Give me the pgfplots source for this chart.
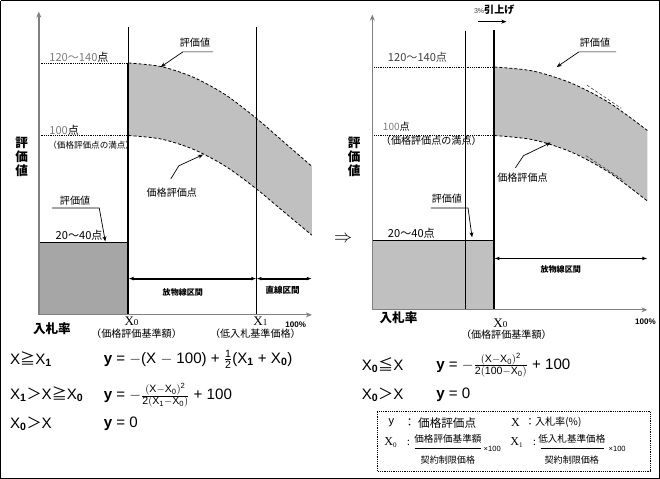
\documentclass[border=0pt]{standalone}
\usepackage{fix-cm}
\usepackage{fontspec}
\setmainfont{Liberation Sans}
\setsansfont{Liberation Sans}
\newfontfamily\jp{Noto Sans CJK JP}
\newfontfamily\mincho{Liberation Serif}
\usepackage{pgfplots}
\pgfplotsset{compat=1.18}
\usepgfplotslibrary{fillbetween}
\usetikzlibrary{arrows.meta}

\definecolor{BandGray}{HTML}{C0C0C0}
\definecolor{DarkBox}{HTML}{A6A6A6}
\definecolor{AxisGray}{HTML}{808080}
\definecolor{LabelGray}{HTML}{7A7A7A}

\newcommand{\fs}[1]{\fontsize{#1}{#1}\selectfont}
\newcommand{\ms}[1]{\mathsf{#1}}

\begin{document}
\begin{tikzpicture}[
    jp/.style={font=\jp\fs{10}},
    lead/.style={black, line width=0.7pt, -{Stealth[length=5pt, width=4pt]}},
    span/.style={black, line width=1.8pt, {Latex[length=5pt]}-{Latex[length=5pt]}},
    curve/.style={black, densely dashed, line width=0.8pt, smooth},
]
\begin{axis}[
    scale only axis,
    width=660pt, height=478pt,
    xmin=0, xmax=660, ymin=0, ymax=478,
    y dir=reverse,
    hide axis,
    clip=false,
]

% ---------------- frame ----------------
\addplot[black, line width=1pt] coordinates {(1,1) (655,1) (655,475) (1,475) (1,1)};

% ================= left panel =================
\addplot[fill=DarkBox, draw=none] coordinates {(39,241) (128,241) (128,313) (39,313)};
\addplot[black, line width=0.8pt] coordinates {(39,241) (128,241)};

\addplot[curve, name path=upL] coordinates {
    (128,63) (160,66.5) (192,77) (224,94.4) (255,118) (283,142.2) (310,165.6)};
\addplot[curve, name path=loL] coordinates {
    (128,135) (160,138.4) (192,148.5) (224,165.3) (255,188) (283,211.4) (310,233.9)};
\addplot[BandGray] fill between[of=upL and loL];

\addplot[black, line width=0.8pt] coordinates {(128,27) (128,63)};
\addplot[black, line width=2pt] coordinates {(128,63) (128,313)};
\addplot[black, line width=0.8pt] coordinates {(255,27) (255,313)};

\addplot[black, densely dotted, line width=0.8pt] coordinates {(39,63) (128,63)};
\addplot[black, densely dotted, line width=0.8pt] coordinates {(39,135) (128,135)};

\addplot[AxisGray, line width=1.6pt, -{Stealth[length=6pt, width=5pt]}] coordinates {(39,313) (39,12)};
\addplot[AxisGray, line width=1pt, -{Stealth[length=6pt, width=5pt]}] coordinates {(39,313) (310,313)};

\addplot[span] coordinates {(128,277) (255,277)};
\addplot[span] coordinates {(255,277) (310,277)};

\addplot[lead] coordinates {(212,52) (182,52) (160,67)};
\addplot[lead] coordinates {(170,178) (178,165) (202,154)};
\addplot[lead] coordinates {(52,207) (99,207) (105,240)};

\node[anchor=west, font=\jp\fs{11}] at (axis cs:46,57) {\textcolor{LabelGray}{120〜140}点};
\node[anchor=west, font=\jp\fs{11}] at (axis cs:46,130) {\textcolor{LabelGray}{100}点};
\node[anchor=west, font=\jp\fs{8.5}] at (axis cs:45,145) {（価格評価点の満点）};
\node[jp] at (axis cs:194,43) {評価値};
\node[jp] at (axis cs:171,192) {価格評価点};
\node[jp] at (axis cs:75,200) {評価値};
\node[font=\jp\fs{11}] at (axis cs:79,234) {20〜40点};
\node[font=\jp\bfseries\fs{8}] at (axis cs:182,291) {放物線区間};
\node[font=\jp\bfseries\fs{8.5}] at (axis cs:281,289) {直線区間};

\node[font=\jp\bfseries\fs{12.5}] at (axis cs:22,142) {評};
\node[font=\jp\bfseries\fs{12.5}] at (axis cs:22,156) {価};
\node[font=\jp\bfseries\fs{12.5}] at (axis cs:22,170) {値};

\node[font=\jp\bfseries\fs{12.5}] at (axis cs:52,327) {入札率};
\node[font=\mincho\fs{13}] at (axis cs:131,319) {X{\fs{9}0}};
\node[font=\jp\fs{10}] at (axis cs:136,332) {（価格評価基準額）};
\node[font=\mincho\fs{13}] at (axis cs:259,319) {X{\fs{9}1}};
\node[font=\jp\fs{10}] at (axis cs:254,332) {（低入札基準価格）};
\node[font=\bfseries\fs{8}] at (axis cs:294,323) {100\%};

\node[anchor=west, font=\fs{15}] at (axis cs:7,357) {X{\jp ≧}X\textsubscript{\textbf{1}}};
\node[anchor=west, font=\fs{15}] at (axis cs:100,357)
    {\textbf{y} = $-$(X $-$ 100) + $\frac{\ms{1}}{\ms{2}}$(X\textsubscript{\textbf{1}} + X\textsubscript{\textbf{0}})};
\node[anchor=west, font=\fs{15}] at (axis cs:7,392) {X\textsubscript{\textbf{1}}{\jp ＞}X{\jp ≧}X\textsubscript{\textbf{0}}};
\node[anchor=west, font=\fs{15}] at (axis cs:100,393)
    {\textbf{y} = $-\frac{(\ms{X}-\ms{X}_{\ms{0}})^{\ms{2}}}{\ms{2}(\ms{X}_{\ms{1}}-\ms{X}_{\ms{0}})}$ + 100};
\node[anchor=west, font=\fs{15}] at (axis cs:7,421) {X\textsubscript{\textbf{0}}{\jp ＞}X};
\node[anchor=west, font=\fs{15}] at (axis cs:100,421) {\textbf{y} = 0};

% ================= right panel =================
\addplot[fill=BandGray, draw=none] coordinates {(370,239) (491,239) (491,308) (370,308)};
\addplot[black, line width=0.8pt] coordinates {(370,239) (491,239)};

\addplot[curve, name path=upR] coordinates {
    (491,67) (529,70.9) (567,82.8) (605,102.4) (643,130)};
\addplot[curve, name path=loR] coordinates {
    (491,135) (529,139.1) (567,151.2) (605,171.6) (643,200)};
\addplot[BandGray] fill between[of=upR and loR];

\addplot[darkgray, densely dashed, line width=0.6pt] coordinates {(583,85) (617,108)};
\addplot[darkgray, densely dashed, line width=0.6pt] coordinates {(582,155) (620,180)};

\addplot[black, line width=0.8pt] coordinates {(462,31) (462,308)};
\addplot[black, line width=2.2pt] coordinates {(491,30) (491,308)};

\addplot[black, densely dotted, line width=0.8pt] coordinates {(370,67) (491,67)};
\addplot[black, densely dotted, line width=0.8pt] coordinates {(370,135) (491,135)};

\addplot[AxisGray, line width=1.6pt, -{Stealth[length=6pt, width=5pt]}] coordinates {(370,308) (370,15)};
\addplot[AxisGray, line width=1pt, -{Stealth[length=6pt, width=5pt]}] coordinates {(370,308) (643,308)};

\addplot[span] coordinates {(491,257) (643,257)};
\addplot[black, line width=1.3pt, -{Stealth[length=5pt, width=4pt]}] coordinates {(475,22) (503,22)};

\addplot[lead] coordinates {(612,52) (575,52) (553,67)};
\addplot[lead] coordinates {(512,167) (520,155) (547,142)};
\addplot[lead] coordinates {(428,207) (465,207) (469,236)};

\node at (axis cs:491,10) {{\fs{7}\textcolor{darkgray}{3\%}}{\jp\bfseries\fs{10}引上げ}};
\node[anchor=west, font=\jp\fs{11}] at (axis cs:382,57) {\textcolor{darkgray}{120〜140点}};
\node[anchor=west, font=\jp\fs{10}] at (axis cs:377,126) {\textcolor{LabelGray}{100}点};
\node[anchor=west, font=\jp\fs{10}] at (axis cs:375,140) {（価格評価点の満点）};
\node[jp] at (axis cs:591,43) {評価値};
\node[jp] at (axis cs:519,177) {価格評価点};
\node[jp] at (axis cs:444,198) {評価値};
\node[anchor=west, font=\jp\fs{11}] at (axis cs:382,232) {20〜40点};
\node[font=\jp\bfseries\fs{8}] at (axis cs:557,268) {放物線区間};
\node[font=\fs{18}] at (axis cs:341,238) {$\Rightarrow$};

\node[font=\jp\bfseries\fs{12.5}] at (axis cs:352,142) {評};
\node[font=\jp\bfseries\fs{12.5}] at (axis cs:352,156) {価};
\node[font=\jp\bfseries\fs{12.5}] at (axis cs:352,170) {値};

\node[font=\jp\bfseries\fs{12.5}] at (axis cs:396,316) {入札率};
\node[font=\mincho\fs{13}] at (axis cs:497,321) {X{\fs{9}0}};
\node[font=\jp\fs{10}] at (axis cs:503,333) {（価格評価基準額）};
\node[font=\bfseries\fs{8}] at (axis cs:641,320) {100\%};

\node[anchor=west, font=\fs{15}] at (axis cs:356,363) {X\textsubscript{\textbf{0}}{\jp ≦}X};
\node[anchor=west, font=\fs{15}] at (axis cs:430,363)
    {\textbf{y} = $-\frac{(\ms{X}-\ms{X}_{\ms{0}})^{\ms{2}}}{\ms{2}(\ms{100}-\ms{X}_{\ms{0}})}$ + 100};
\node[anchor=west, font=\fs{15}] at (axis cs:356,392) {X\textsubscript{\textbf{0}}{\jp ＞}X};
\node[anchor=west, font=\fs{15}] at (axis cs:430,392) {\textbf{y} = 0};

% definitions box
\addplot[black, densely dotted, line width=0.8pt] coordinates {(375,409) (646,409) (646,468) (375,468) (375,409)};
\node[font=\fs{11}] at (axis cs:389,420) {y};
\node[font=\jp\fs{11}] at (axis cs:407,420) {：};
\node[anchor=west, font=\jp\fs{11.5}] at (axis cs:412,420) {価格評価点};
\node[font=\mincho\fs{12}] at (axis cs:512,420) {X};
\node[anchor=west, font=\jp\fs{10}] at (axis cs:518,420) {：入札率(\%)};

\node[font=\mincho\fs{12}] at (axis cs:388,440) {X\raisebox{-2pt}{\fs{7}0}};
\node[font=\jp\fs{10}] at (axis cs:406,440) {:};
\node[font=\jp\fs{9.5}] at (axis cs:445,436) {価格評価基準額};
\addplot[black, line width=0.6pt] coordinates {(412,445) (478,445)};
\node[font=\jp\fs{9}] at (axis cs:445,457) {契約制限価格};
\node[font=\fs{7.5}] at (axis cs:489,446) {×100};

\node[font=\mincho\fs{12}] at (axis cs:513,440) {X\raisebox{-2pt}{\fs{7}1}};
\node[font=\jp\fs{10}] at (axis cs:531,440) {:};
\node[font=\jp\fs{9.5}] at (axis cs:568,436) {低入札基準価格};
\addplot[black, line width=0.6pt] coordinates {(537,445) (600,445)};
\node[font=\jp\fs{9}] at (axis cs:568,457) {契約制限価格};
\node[font=\fs{7.5}] at (axis cs:613,446) {×100};

\end{axis}
\end{tikzpicture}
\end{document}
